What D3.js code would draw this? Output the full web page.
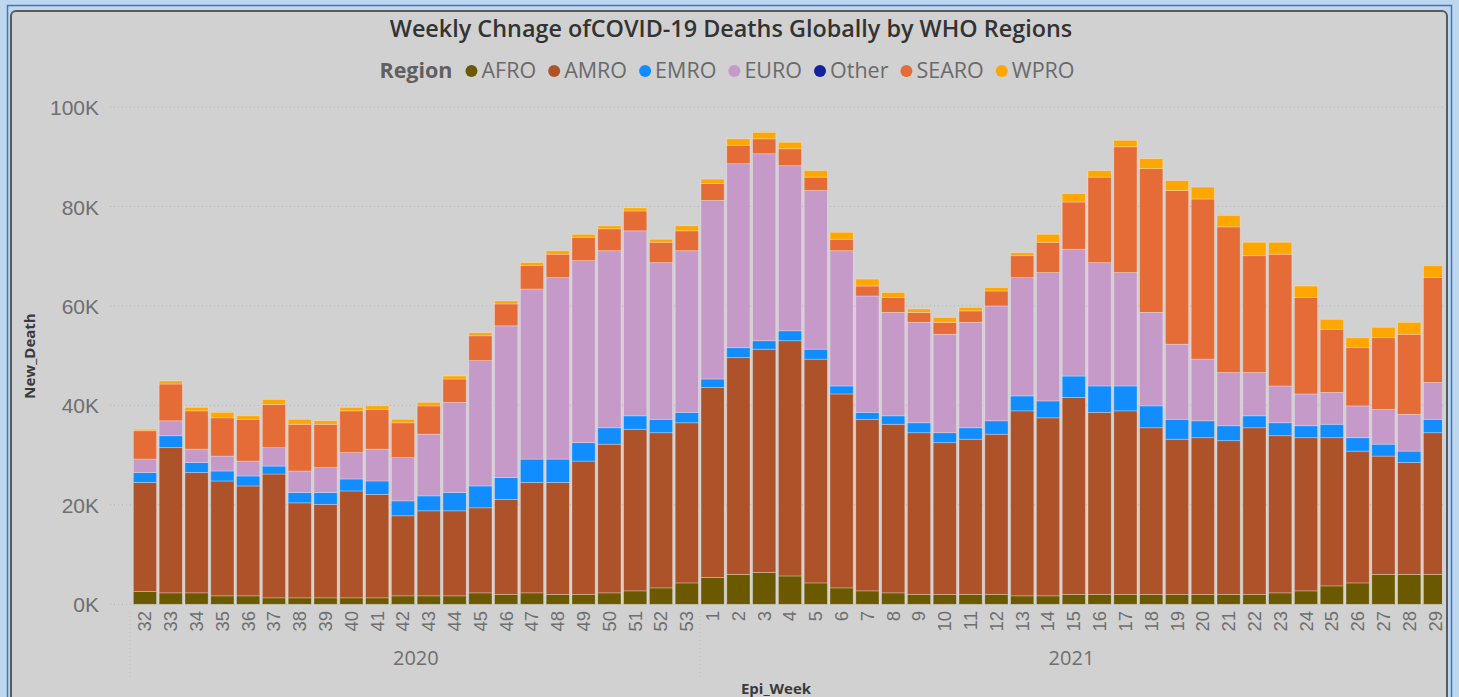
<!DOCTYPE html>
<html lang="en">
  <head>
    <meta charset="UTF-8">
    <title>Weekly Change of COVID-19 Deaths by WHO Regions</title>
    <script src="https://d3js.org/d3.v7.min.js"></script>
    <style>
      body {
        margin: 0;
        padding: 0;
        background-color: #bdd7ee;
        font-family: 'Open Sans', 'Noto Sans', sans-serif;
      }
      svg { display: block; }
      .grid line { stroke: #b4b4b4; stroke-dasharray: 1 3; }
      .yaxis text { font-size: 21px; fill: #6f6f6f; }
      .xaxis text { font-size: 18.5px; fill: #6f6f6f; }
    </style>
  </head>
  <body>
    <script>
      // epi weeks: 2020 wk 32-53, 2021 wk 1-29
      const years = ["2020", "2021"];
      const weeks2020 = d3.range(32, 54);
      const weeks2021 = d3.range(1, 30);
      const regions = ["AFRO", "AMRO", "EMRO", "EURO", "Other", "SEARO", "WPRO"];
      const colors = ["#6b5900", "#ae5229", "#118dff", "#c599c8", "#12239e", "#e66c37", "#ffa600"];
      const yTicks = [0, 20000, 40000, 60000, 80000, 100000];

      // weekly new deaths per region
      const afro = [2600,2300,2300,1700,1700,1300,1300,1300,1300,1300,1700,1700,1700,2300,2000,2300,2000,2000,2300,2700,3300,4300,
                    5400,6000,6400,5700,4300,3300,2700,2300,2000,2000,2000,2000,1700,1700,2000,2000,2000,2000,2000,2000,2000,2000,2300,2700,3700,4300,6000,6000,6000];
      const amro = [21900,29200,24200,23100,22100,24900,19100,18800,21500,20800,16100,17100,17100,17100,19100,22200,22500,26800,29900,32500,31200,32200,
                    38200,43600,44900,47300,45000,39000,34500,33900,32500,30500,31200,32200,37200,35800,39600,36600,36900,33500,31200,31500,30900,33500,31600,30800,29800,26500,23800,22500,28500];
      const emro = [2000,2400,2000,2000,2000,1600,2100,2400,2400,2700,3000,3000,3700,4400,4400,4700,4700,3700,3300,2700,2700,2100,
                    1700,2000,1700,2000,2000,1600,1400,1700,2000,2000,2300,2700,3000,3400,4300,5300,5000,4400,4000,3400,3000,2400,2600,2400,2700,2700,2400,2300,2700];
      const euro = [2700,3000,2700,3000,3000,3700,4300,5000,5300,6400,8700,12400,18100,25200,30500,34200,36500,36600,35600,37200,31500,32500,
                    35900,37000,37600,33200,31900,27200,23400,20800,20200,19800,21200,23100,23800,25800,25500,24800,22800,18800,15100,12400,10700,8700,7400,6400,6400,6400,7000,7400,7400];
      const other = new Array(51).fill(0);
      const searo = [5700,7400,7700,7700,8400,8700,9400,8700,8400,8000,7000,5700,4700,5000,4400,4700,4700,4700,4400,4000,4100,4000,
                     3400,3700,3000,3400,2700,2300,2000,3000,2000,2400,2300,3000,4400,6100,9500,17200,25300,28900,30900,32200,29300,23500,26500,19400,12700,11700,14400,16100,21100];
      const wpro = [300,600,700,1100,700,1000,1000,700,700,700,700,700,600,600,600,600,700,600,600,600,600,1000,
                    900,1300,1300,1300,1300,1400,1400,1000,700,1000,700,700,600,1600,1700,1300,1300,2000,2000,2400,2300,2700,2400,2300,2000,2000,2100,2400,2400];

      const series = [afro, amro, emro, euro, other, searo, wpro];
      const rows = weeks2020.map(w => ({ year: "2020", week: w }))
        .concat(weeks2021.map(w => ({ year: "2021", week: w })));
      rows.forEach((r, i) => {
        r.key = r.year + "-" + r.week;
        regions.forEach((reg, j) => r[reg] = series[j][i]);
      });

      const W = 1459, H = 697;
      const svg = d3.select("body").append("svg").attr("width", W).attr("height", H);

      // outer frame + panel
      svg.append("rect").attr("x", 7.5).attr("y", 5.5).attr("width", 1444).attr("height", 720)
        .attr("fill", "#bdd7ee").attr("stroke", "#4472c4").attr("stroke-width", 1.5);
      svg.append("rect").attr("x", 11).attr("y", 11).attr("width", 1436).attr("height", 710).attr("rx", 5)
        .attr("fill", "#d1d1d1").attr("stroke", "#5a5a5a").attr("stroke-width", 2);

      const x = d3.scaleBand().domain(rows.map(d => d.key)).range([130, 1450]).paddingInner(0.1).paddingOuter(0.13);
      const y = d3.scaleLinear().domain([0, 100000]).range([604.3, 107]);
      const color = d3.scaleOrdinal().domain(regions).range(colors);

      // gridlines
      svg.append("g").attr("class", "grid").selectAll("line").data(yTicks).join("line")
        .attr("x1", 110).attr("x2", 1444).attr("y1", d => y(d)).attr("y2", d => y(d));

      // y axis
      const yAxis = svg.append("g").attr("class", "yaxis").attr("transform", "translate(99,0)")
        .call(d3.axisLeft(y).tickValues(yTicks).tickFormat(d => d / 1000 + "K").tickSize(0).tickPadding(0));
      yAxis.select(".domain").remove();
      yAxis.selectAll("text").attr("dy", "0.36em");

      // stacked bars
      svg.append("clipPath").attr("id", "plotclip").append("rect")
        .attr("x", 110).attr("y", 90).attr("width", 1332).attr("height", 520);
      const stacked = d3.stack().keys(regions)(rows);
      svg.append("g").attr("clip-path", "url(#plotclip)")
        .selectAll("g").data(stacked).join("g").attr("fill", d => color(d.key))
        .selectAll("rect").data(d => d).join("rect")
        .attr("x", d => x(d.data.key))
        .attr("width", x.bandwidth())
        .attr("y", d => y(d[1]))
        .attr("height", d => Math.max(0, y(d[0]) - y(d[1])))
        .attr("stroke", "rgba(255,255,255,0.35)").attr("stroke-width", 0.8);

      // x axis week labels
      const xAxis = svg.append("g").attr("class", "xaxis").attr("transform", "translate(0,611)")
        .call(d3.axisBottom(x).tickFormat(k => k.split("-")[1]).tickSize(0).tickPadding(0));
      xAxis.select(".domain").remove();
      xAxis.selectAll("text")
        .attr("transform", "rotate(-90)")
        .attr("text-anchor", "end")
        .attr("x", 0).attr("y", 0).attr("dx", 0).attr("dy", "0.35em");

      // year group labels + separators
      const yearSpan = years.map(yr => {
        const ks = rows.filter(r => r.year === yr).map(r => r.key);
        return { yr, x0: x(ks[0]), x1: x(ks[ks.length - 1]) + x.bandwidth() };
      });
      svg.append("g").selectAll("line").data([130, (yearSpan[0].x1 + yearSpan[1].x0) / 2]).join("line")
        .attr("x1", d => d).attr("x2", d => d).attr("y1", 612).attr("y2", 680)
        .attr("stroke", "#bdbdbd").attr("stroke-dasharray", "1 3");
      svg.append("g").selectAll("text").data(yearSpan).join("text")
        .attr("x", d => (d.x0 + Math.min(d.x1, 1442)) / 2).attr("y", 665)
        .attr("text-anchor", "middle").attr("font-size", 20).attr("fill", "#6f6f6f")
        .text(d => d.yr);

      // axis titles
      svg.append("text").attr("x", 776).attr("y", 694).attr("text-anchor", "middle")
        .attr("font-size", 15).attr("font-weight", 700).attr("fill", "#3a3a3a").text("Epi_Week");
      svg.append("text").attr("transform", "translate(35,356) rotate(-90)").attr("text-anchor", "middle")
        .attr("font-size", 15).attr("font-weight", 700).attr("fill", "#3a3a3a").text("New_Death");

      // title
      svg.append("text").attr("x", 731).attr("y", 37).attr("text-anchor", "middle")
        .attr("font-size", 23.4).attr("font-weight", 600).attr("fill", "#333")
        .text("Weekly Chnage ofCOVID-19 Deaths Globally by WHO Regions");

      // legend
      const legend = svg.append("g");
      const lt = legend.append("text").attr("x", 0).attr("y", 78)
        .attr("font-size", 21.5).attr("font-weight", 700).attr("fill", "#606060").text("Region");
      let cx = lt.node().getComputedTextLength() + 19;
      regions.forEach(reg => {
        legend.append("circle").attr("cx", cx).attr("cy", 71).attr("r", 6).attr("fill", color(reg));
        const t = legend.append("text").attr("x", cx + 10).attr("y", 78)
          .attr("font-size", 21.5).attr("fill", "#6a6a6a").text(reg);
        cx += 10 + t.node().getComputedTextLength() + 18;
      });
      const lw = cx - 18;
      legend.attr("transform", `translate(${727 - lw / 2},0)`);
    </script>
  </body>
</html>
